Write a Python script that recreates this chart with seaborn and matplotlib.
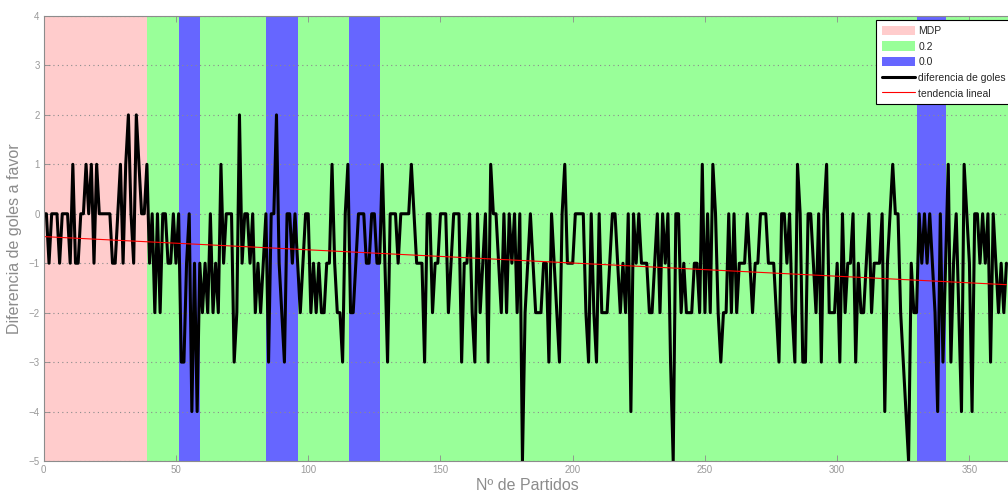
import numpy as np
import pandas as pd
import matplotlib
matplotlib.use("Agg")
import matplotlib.pyplot as plt
from matplotlib.patches import Patch
from matplotlib.lines import Line2D
import seaborn as sns

# Goal difference per match (match index 0..364)
goal_diff = [
    0, 0, -1, 0, 0, 0, -1, 0, 0, 0, -1, 1, -1, -1, 0, 0, 1, 0, 1, -1,
    1, 0, 0, 0, 0, 0, -1, -1, 0, 1, -1, 1, 2, 0, -1, 2, 1, 0, 0, 1,
    -1, 0, -2, 0, -2, 0, 0, -1, -1, 0, -1, 0, -3, -3, -1, 0, -4, -1, -4, -1,
    -2, -1, -2, 0, -2, -1, -2, 1, -1, 0, 0, 0, -3, -2, 2, -1, 0, 0, -1, 0,
    -2, -1, -2, -1, 0, -3, 0, 0, 2, -1, -2, -3, 0, 0, -1, 0, -1, -2, -1, 0,
    0, -2, -1, -2, -1, -2, -2, -1, -1, 1, -1, -2, -2, -3, 0, 1, -2, -2, -1, 0,
    0, 0, -1, -1, 0, 0, -1, -1, 1, -1, -3, 0, 0, 0, -1, 0, 0, 0, 0, 1,
    0, -1, -1, -1, -3, 0, 0, -2, -1, -1, 0, 0, 0, -2, -1, 0, 0, 0, -3, -1,
    -1, 0, -2, -3, 0, -2, -1, 0, -3, 1, 0, 0, -1, -2, 0, -2, 0, -1, 0, -2,
    0, -5, -2, -1, 0, -1, -2, -2, -2, -1, -1, -3, 0, -1, -2, -3, 0, 1, -1, -1,
    -1, 0, 0, 0, 0, -2, -3, 0, -2, -3, 0, -2, -2, -2, -1, 0, 0, -1, -2, -1,
    -2, 0, -4, 0, -1, 0, -1, -1, -1, -2, -2, -1, 0, -2, 0, -1, 0, -3, -5, 0,
    0, -2, -1, -2, -2, -2, -1, -1, -2, 1, -2, 0, -2, 1, 0, -2, -3, -2, -2, 0,
    -2, 0, -2, -1, -1, -1, 0, -1, -2, -1, -1, 0, 0, 0, -1, -1, -1, -2, -3, 0,
    0, -1, 0, -2, -3, 1, 0, -3, -3, 0, 0, -1, -2, 0, -3, 0, 1, -2, -2, -2,
    -1, -3, 0, -2, -1, -1, 0, -3, -1, -2, -2, -1, 0, -2, -1, -1, -1, 0, -4, -1,
    0, 1, 0, 0, -2, -3, -4, -5, -1, -2, -2, 0, -1, 0, -1, 0, -1, -2, -4, 0,
    -3, -1, 1, -3, -1, 0, -2, -4, 1, 0, -1, -4, 0, 0, -1, 0, -1, 0, -3, 0,
    -1, -2, -1, -2, -1,
]

# Background periods: (start, end, label)
period_starts = [0, 39, 51, 59, 84, 96, 115.5, 127, 330, 341]
period_ends = [39, 51, 59, 84, 96, 115.5, 127, 330, 341, 366]
period_labels = ["MDP", "0.2", "0.0", "0.2", "0.0", "0.2", "0.0", "0.2", "0.0", "0.2"]
period_colors = {"MDP": "#ffcccc", "0.2": "#99ff99", "0.0": "#6666ff"}

x_ticks = [0, 50, 100, 150, 200, 250, 300, 350]
y_ticks = [-5, -4, -3, -2, -1, 0, 1, 2, 3, 4]

matches = np.arange(len(goal_diff))
df = pd.DataFrame({"partido": matches, "dif": goal_diff})
slope, intercept = np.polyfit(df["partido"], df["dif"], 1)
df["tendencia"] = intercept + slope * df["partido"]

sns.set_style("white")
plt.rcParams["font.family"] = ["Liberation Sans", "DejaVu Sans"]

fig = plt.figure(figsize=(10.08, 4.98), dpi=100)
ax = fig.add_axes([0.0434, 0.0743, 0.9603, 0.8936])

for s, e, lab in zip(period_starts, period_ends, period_labels):
    ax.axvspan(s, e, color=period_colors[lab], lw=0, zorder=0)

sns.lineplot(data=df, x="partido", y="dif", color="black", lw=2.2, ax=ax, zorder=3,
             solid_joinstyle="round")
sns.lineplot(data=df, x="partido", y="tendencia", color="red", lw=0.8, ax=ax, zorder=4)

ax.set_xlim(0, 366)
ax.set_ylim(-5, 4)
ax.set_xticks(x_ticks)
ax.set_yticks(y_ticks)
ax.yaxis.grid(True, linestyle=(0, (1, 3)), color="#8c8c8c", lw=0.8)
ax.xaxis.grid(False)
ax.set_axisbelow(False)
ax.tick_params(axis="both", which="both", direction="in", length=4, width=0.6,
               colors="#8c8c8c", labelsize=7, labelcolor="#999999",
               top=True, bottom=True, left=True, right=False, pad=3)
for lbl in ax.get_xticklabels() + ax.get_yticklabels():
    lbl.set_family(["Liberation Sans Narrow", "Liberation Sans", "DejaVu Sans"])
for sp in ax.spines.values():
    sp.set_color("#8c8c8c")
    sp.set_linewidth(0.8)
    sp.set_zorder(5)

ax.set_xlabel("Nº de Partidos", fontsize=11.5, color="#8c8c8c", labelpad=2)
ax.set_ylabel("Diferencia de goles a favor", fontsize=11.5, color="#8c8c8c", labelpad=5)

handles = [
    Patch(facecolor=period_colors["MDP"], edgecolor="none", label="MDP"),
    Patch(facecolor=period_colors["0.2"], edgecolor="none", label="0.2"),
    Patch(facecolor=period_colors["0.0"], edgecolor="none", label="0.0"),
    Line2D([], [], color="black", lw=2.2, label="diferencia de goles"),
    Line2D([], [], color="red", lw=0.8, label="tendencia lineal"),
]
leg = ax.legend(handles=handles, loc="upper left", bbox_to_anchor=(0.86, 0.991),
                fontsize=7.5, frameon=True, fancybox=False, framealpha=1,
                edgecolor="black", borderpad=0.55, labelspacing=0.52,
                handlelength=3.2, handleheight=1.0, handletextpad=0.3,
                borderaxespad=0.0)
leg.get_frame().set_linewidth(0.8)
leg.set_zorder(6)

fig.savefig("out.png", dpi=100)
